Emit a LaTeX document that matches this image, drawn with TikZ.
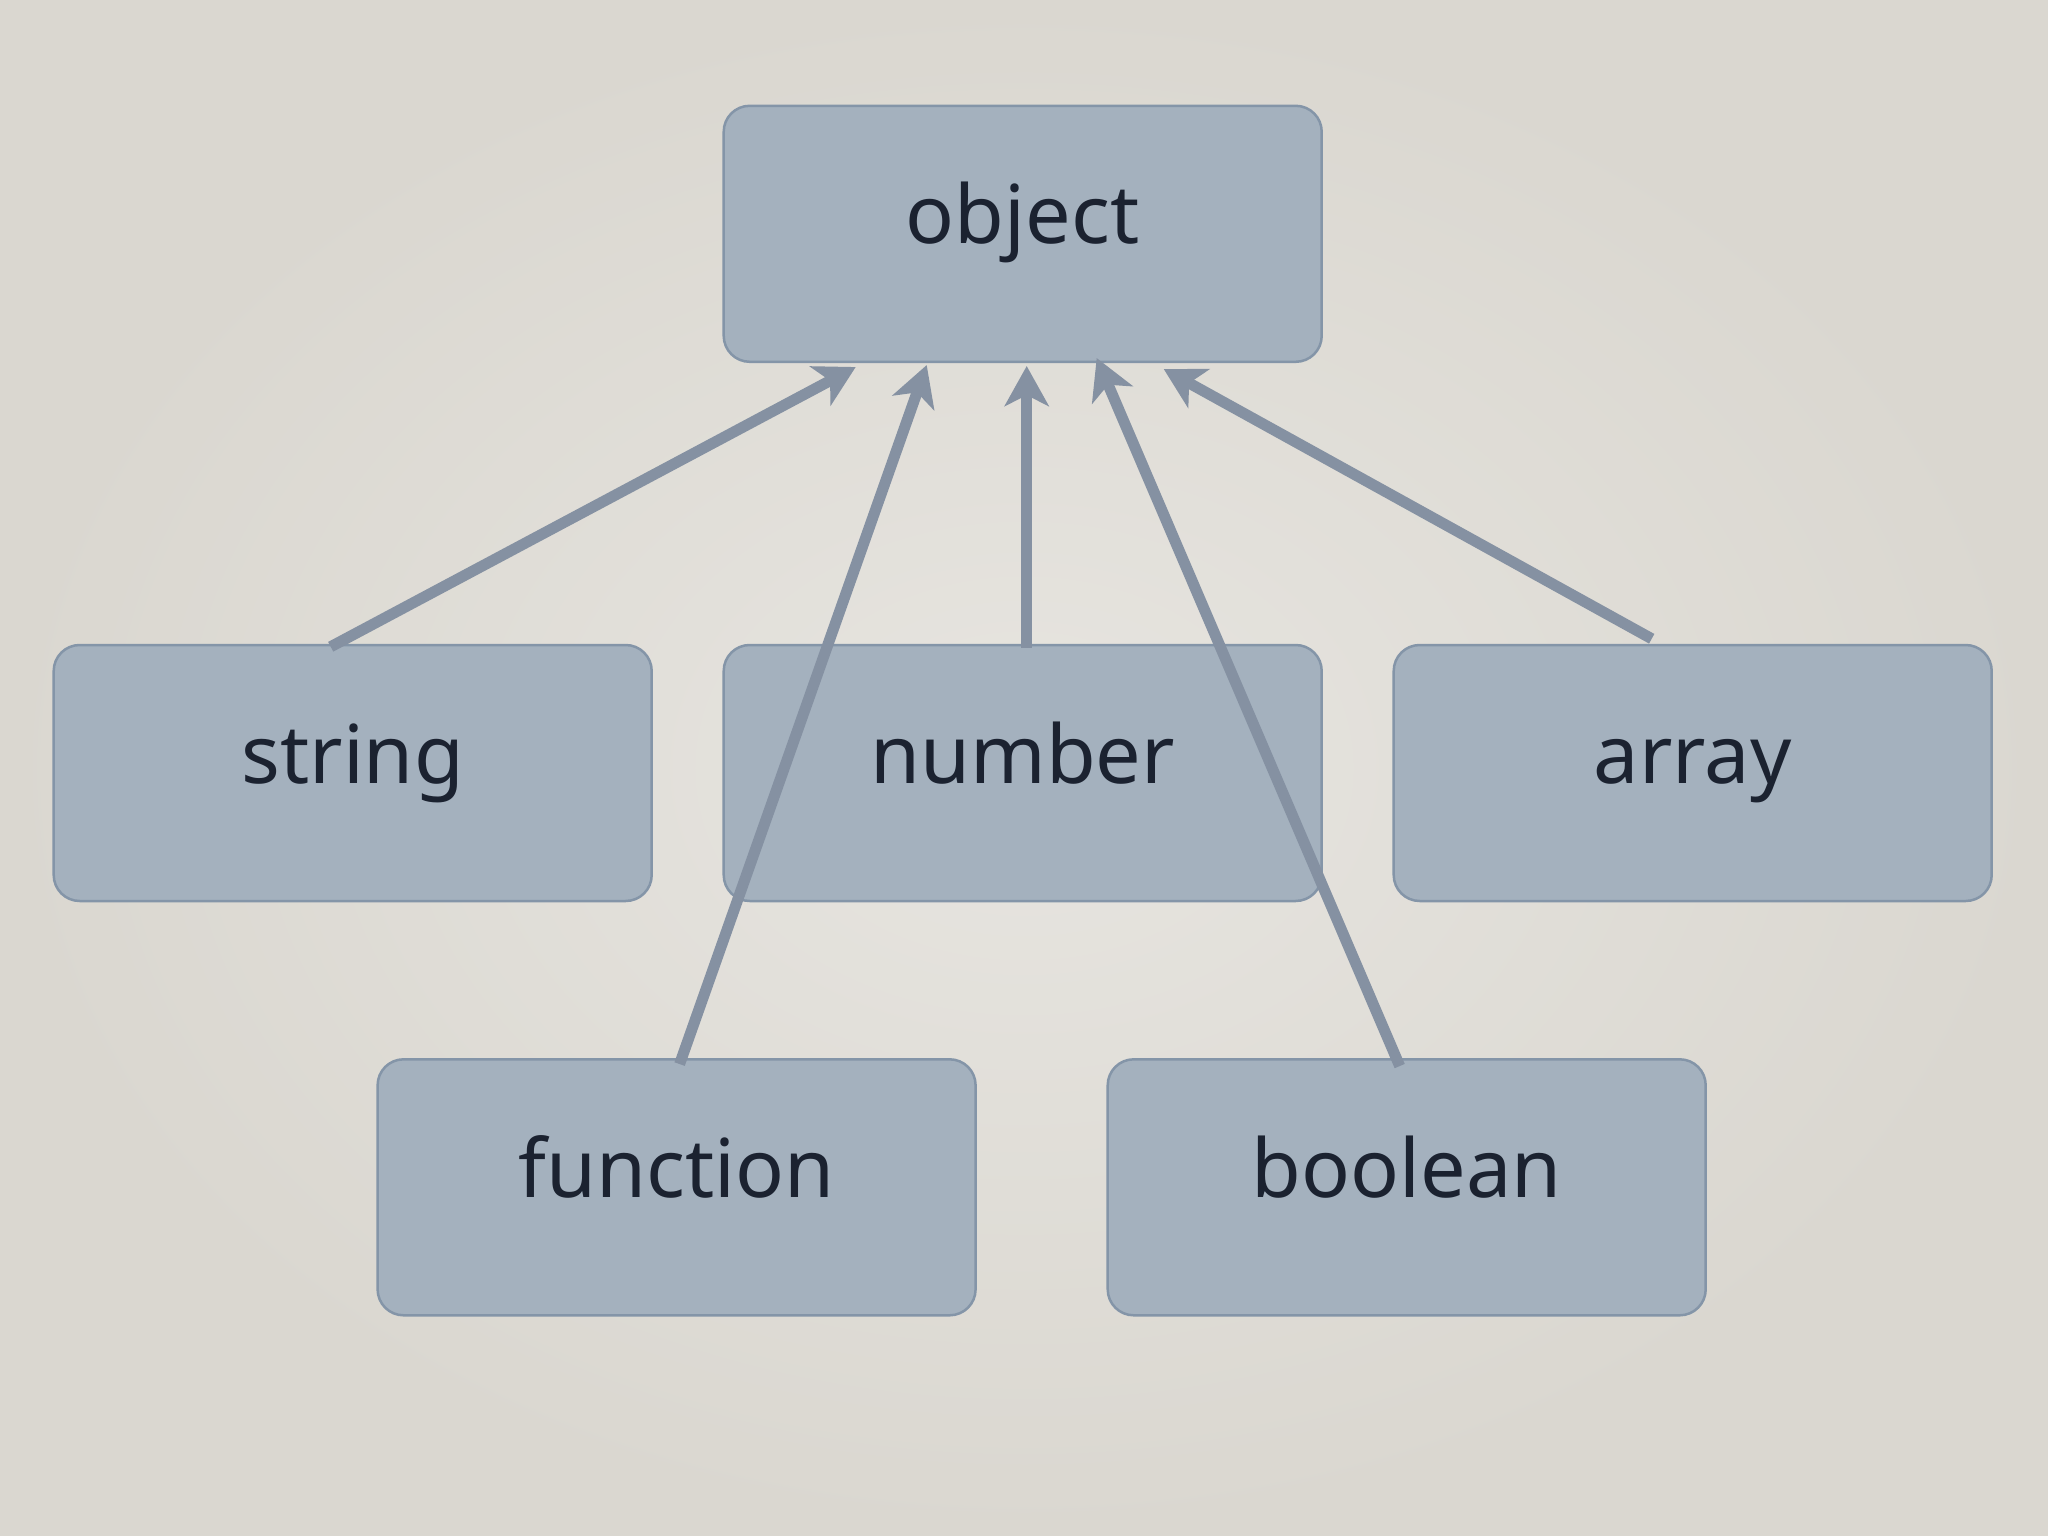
\documentclass[tikz,border=0pt]{standalone}
\usepackage{fontspec}
\setmainfont{Noto Sans}
\usetikzlibrary{arrows.meta}
\definecolor{bgin}{HTML}{E7E5E0}
\definecolor{bgout}{HTML}{DAD7D0}
\definecolor{boxfill}{HTML}{A4B1BE}
\definecolor{boxline}{HTML}{8495A8}
\definecolor{arrowcol}{HTML}{8591A2}
\definecolor{txt}{HTML}{1B2230}
\newfontfamily\labelfont{Noto Sans}
\tikzset{
  typebox/.style={rectangle, rounded corners=26pt, fill=boxfill, draw=boxline,
    line width=2.5pt, minimum width=598pt, minimum height=256pt, inner sep=0pt,
    text height=62pt, text depth=42pt, text=txt,
    font=\labelfont\fontsize{81}{90}\selectfont},
  inherit/.style={draw=arrowcol, line width=11pt,
    -{Stealth[length=40pt, width=44pt, inset=11pt]}}
}
\begin{document}
\begin{tikzpicture}[x=1pt, y=-1pt]
\useasboundingbox (0,0) rectangle (2048,1536);
\shade[inner color=bgin, outer color=bgout] (0,0) rectangle (2048,1536);
\node[typebox] (object) at (1022.7,233.8) {object};
\node[typebox] (string) at (352.7,773) {string};
\node[typebox] (number) at (1022.7,773) {number};
\node[typebox] (array) at (1692.7,773) {array};
\node[typebox] (function) at (676.6,1187.3) {function};
\node[typebox] (boolean) at (1406.7,1187.3) {boolean};
\draw[inherit] ([xshift=-22pt,yshift=-3pt]string.north) -- ([xshift=-167pt,yshift=-4pt]object.south);
\draw[inherit] ([xshift=3pt,yshift=-6pt]function.north) -- ([xshift=-96pt,yshift=-2pt]object.south);
\draw[inherit] ([xshift=4pt,yshift=-4pt]number.north) -- ([xshift=4pt,yshift=-3pt]object.south);
\draw[inherit] ([xshift=-7pt,yshift=-8pt]boolean.north) -- ([xshift=74pt,yshift=5pt]object.south);
\draw[inherit] ([xshift=-41pt,yshift=5pt]array.north) -- ([xshift=141pt,yshift=-6pt]object.south);
\end{tikzpicture}
\end{document}
